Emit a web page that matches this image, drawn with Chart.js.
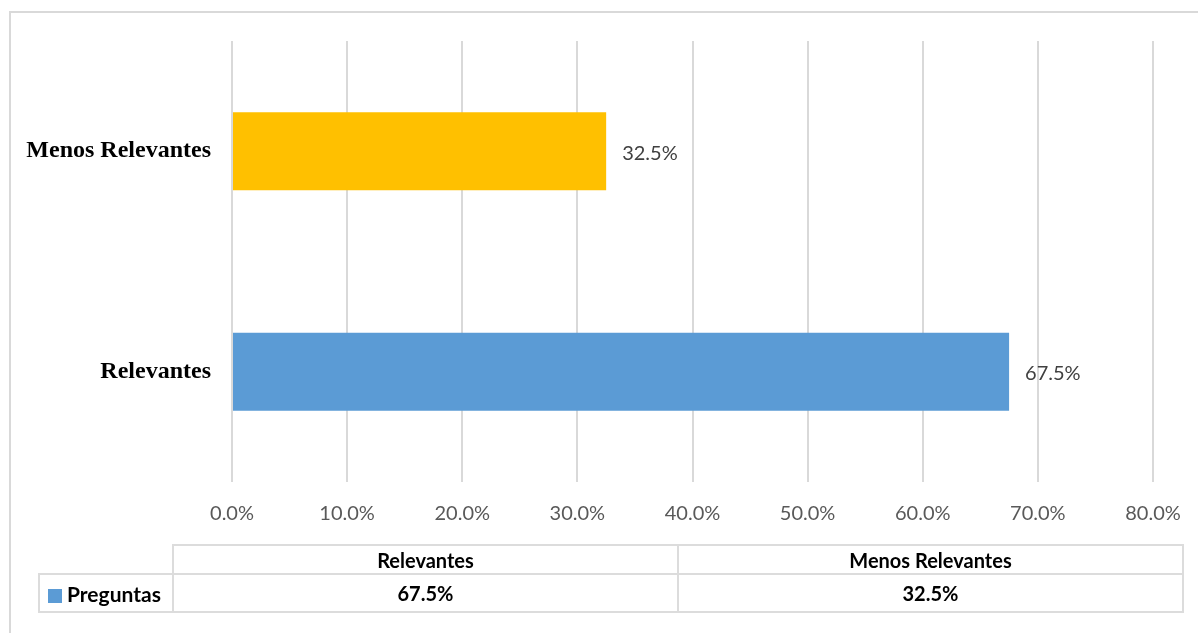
<!DOCTYPE html>
<html>
<head>
<meta charset="utf-8">
<script src="https://cdn.jsdelivr.net/npm/chart.js@4.4.1/dist/chart.umd.min.js"></script>
<style>
  body { margin: 0; background: #fff; overflow: hidden; }
  #frame { position: absolute; left: 9px; top: 11px; width: 1200px; height: 700px; border: 2px solid #d9d9d9; box-sizing: border-box; }
  #wrap { position: absolute; left: 0; top: 0; width: 1198px; height: 633px; }
  #tbl { position: absolute; left: 38px; top: 544px; border-collapse: collapse; font-family: Lato, sans-serif; font-weight: bold; font-size: 20px; color: #000; }
  #tbl td { border: 2px solid #dcdcdc; text-align: center; padding: 0; }
  #tbl td.blank { border: none; }
  #tbl td.leg { text-align: left; padding-left: 8px; font-size: 21px; }
  .sw { display: inline-block; width: 14px; height: 14px; margin-right: 5px; vertical-align: -1px; }
</style>
</head>
<body>
<div id="frame"></div>
<div id="wrap"><canvas id="myChart" width="1198" height="633"></canvas></div>
<table id="tbl"></table>
<script>
var categories = ["Relevantes", "Menos Relevantes"]
var values = [67.5, 32.5]
var seriesName = "Preguntas"
var barColors = ["#5B9BD5", "#FFC000"]
var xTicks = [0, 10, 20, 30, 40, 50, 60, 70, 80]

function pct(v) { return v.toFixed(1) + "%" }

// bar end labels
var valueLabels = {
  id: "valueLabels",
  afterDatasetsDraw: function(chart) {
    var ctx = chart.ctx
    var meta = chart.getDatasetMeta(0)
    ctx.save()
    ctx.font = "20px Lato"
    ctx.fillStyle = "#404040"
    ctx.textBaseline = "middle"
    ctx.textAlign = "left"
    meta.data.forEach(function(bar, i) {
      ctx.fillText(pct(values[i]), bar.x + 16, bar.y + 2)
    })
    ctx.restore()
  }
}

document.addEventListener("DOMContentLoaded", function() {

  var ctx = document.getElementById("myChart")
  var myChart = new Chart(ctx, {
    type: "bar",
    data: {
      labels: categories,
      datasets: [{
        label: seriesName,
        data: values,
        backgroundColor: barColors,
        categoryPercentage: 1,
        barPercentage: 0.354
      }]
    },
    options: {
      indexAxis: "y",
      responsive: false,
      animation: false,
      layout: { padding: { left: 10, right: 45, top: 41, bottom: 91 } },
      plugins: { legend: { display: false }, tooltip: { enabled: false } },
      scales: {
        x: {
          min: 0,
          max: 80,
          afterBuildTicks: function(scale) {
            scale.ticks = xTicks.map(function(v) { return { value: v } })
          },
          afterFit: function(scale) {
            scale.height = 60
            scale.paddingRight = 0
          },
          grid: { color: "#d9d9d9", lineWidth: 2, drawTicks: false },
          border: { display: false },
          ticks: {
            padding: 20,
            color: "#595959",
            font: { family: "Lato", size: 20 },
            callback: function(v) { return pct(v) }
          }
        },
        y: {
          reverse: true,
          afterFit: function(scale) { scale.width = 222 },
          grid: { display: false },
          border: { display: false },
          ticks: {
            padding: 13,
            color: "#000",
            font: { family: "Liberation Serif", size: 24, weight: "bold" }
          }
        }
      }
    },
    plugins: [valueLabels]
  })

  // data table under the chart
  var tbl = document.getElementById("tbl")
  var head = "<tr style='height:29px'><td class='blank' style='width:133px'></td>"
  categories.forEach(function(c) { head += "<td style='width:503px'>" + c + "</td>" })
  head += "</tr>"
  var row = "<tr style='height:38px'><td class='leg'><span class='sw' style='background:" + barColors[0] + "'></span>" + seriesName + "</td>"
  values.forEach(function(v) { row += "<td>" + pct(v) + "</td>" })
  row += "</tr>"
  tbl.innerHTML = head + row
})
</script>
</body>
</html>
